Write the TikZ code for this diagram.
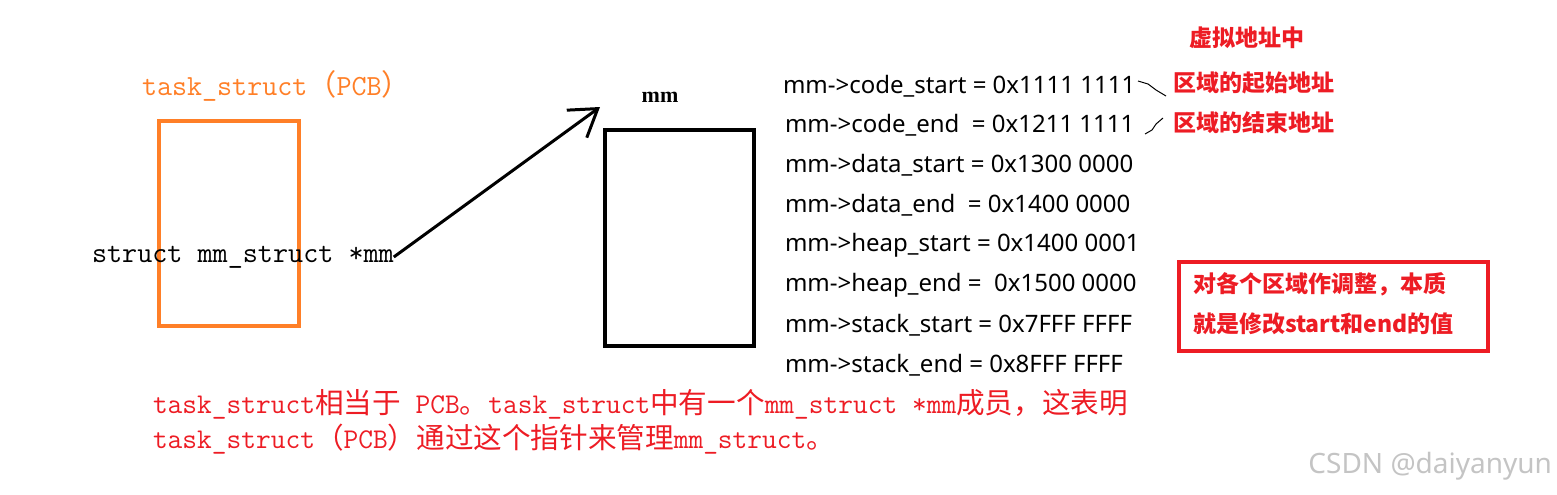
\documentclass[tikz,border=0pt]{standalone}
\usepackage{fontspec}
\setmainfont{Liberation Serif}
\newfontfamily\cjk{Noto Sans CJK SC}
\newfontfamily\listfont{Noto Sans}
\usetikzlibrary{arrows.meta}
\definecolor{pcborange}{HTML}{FF7F27}
\definecolor{notered}{HTML}{ED1C24}
\definecolor{wmgray}{HTML}{C4C4C4}
\tikzset{
  txt/.style={inner sep=0pt, outer sep=0pt},
  monotxt/.style={txt, font=\ttfamily\fontsize{14.3}{17}\selectfont},
  listtxt/.style={txt, anchor=west, font=\listfont\fontsize{12}{14}\selectfont},
  redlbl/.style={txt, text=notered, font=\cjk\bfseries\fontsize{11.5}{14}\selectfont},
  boxline/.style={line width=2pt},
  tick/.style={line width=0.5pt}
}
\begin{document}
\begin{tikzpicture}[x=0.5pt,y=-0.5pt]
\useasboundingbox (0,0) rectangle (1557,494);
% task_struct box
\node[monotxt, text=pcborange, anchor=west, font=\ttfamily\fontsize{14.6}{17}\selectfont] (pcblbl) at (142,86) {task\_struct{\cjk （}PCB{\cjk ）}};
\node[draw=pcborange, boxline, minimum width=70pt, minimum height=102.5pt, inner sep=0pt] (pcb) at (229,223.5) {};
\node[monotxt, text=black, anchor=west, font=\ttfamily\fontsize{14.65}{17}\selectfont] (ptr) at (92,257) {struct mm\_struct *mm};
% mm box
\node[txt, font=\bfseries\fontsize{11}{13}\selectfont] (mmlbl) at (660,97) {mm};
\node[draw=black, boxline, minimum width=74.5pt, minimum height=108pt, inner sep=0pt] (mmbox) at (679.5,238) {};
\coordinate (tip) at (600,107);
\draw[line width=1.5pt, -{Straight Barb[length=13pt,width=17pt]}] (ptr.east) -- (tip);
% list
\node[listtxt] (l1) at (783,86) {mm->code\_start = 0x1111 1111};
\node[listtxt] (l2) at (785,125) {mm->code\_end\ \ = 0x1211 1111};
\node[listtxt] (l3) at (785,165) {mm->data\_start = 0x1300 0000};
\node[listtxt] (l4) at (785,205) {mm->data\_end\ \ = 0x1400 0000};
\node[listtxt] (l5) at (785,245) {mm->heap\_start = 0x1400 0001};
\node[listtxt] (l6) at (785,285) {mm->heap\_end =\ \ 0x1500 0000};
\node[listtxt] (l7) at (785,325) {mm->stack\_start = 0x7FFF FFFF};
\node[listtxt] (l8) at (785,365) {mm->stack\_end = 0x8FFF FFFF};
% red labels
\node[redlbl] (v1) at (1247,38) {虚拟地址中};
\node[redlbl, anchor=west] (v2) at (1173,83) {区域的起始地址};
\node[redlbl, anchor=west] (v3) at (1173,123) {区域的结束地址};
\coordinate (t1a) at (1138,81);
\coordinate (t1b) at (1166,96);
\coordinate (t2a) at (1145,134);
\coordinate (t2b) at (1163,118);
\draw[tick] (t1a) -- (1148,84) -- (1156,90) -- (t1b);
\draw[tick] (t2a) -- (1152,130) -- (1156,124) -- (t2b);
% note box
\node[draw=notered, boxline, minimum width=154.5pt, minimum height=44.5pt, inner sep=0pt] (note) at (1333.5,306.5) {};
\node[redlbl, anchor=west] (n1) at (1193,284) {对各个区域作调整，本质};
\node[redlbl, anchor=west] (n2) at (1193,324) {就是修改start和end的值};
% bottom text
\node[monotxt, text=notered, anchor=west] (b1) at (153,404) {task\_struct{\cjk 相当于} PCB{\cjk 。}task\_struct{\cjk 中有一个}mm\_struct *mm{\cjk 成员，这表明}};
\node[monotxt, text=notered, anchor=west] (b2) at (153,439) {task\_struct{\cjk （}PCB{\cjk ）通过这个指针来管理}mm\_struct{\cjk 。}};
% watermark
\node[txt, anchor=east, text=wmgray, font=\listfont\fontsize{14}{16}\selectfont] (wm) at (1552,466) {CSDN @daiyanyun};
\end{tikzpicture}
\end{document}
